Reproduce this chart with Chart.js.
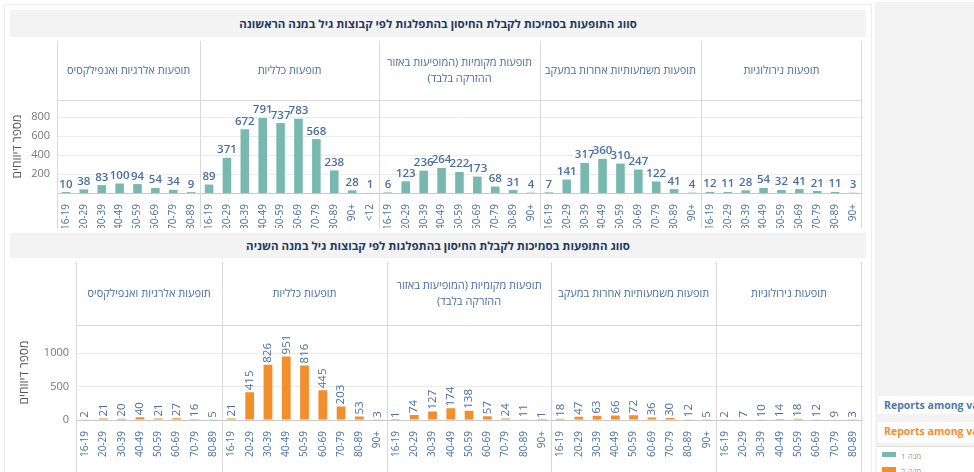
<!DOCTYPE html>
<html>
<head>
<meta charset="utf-8">
<script src="https://cdn.jsdelivr.net/npm/chart.js@4.4.1/dist/chart.umd.min.js"></script>
<style>
body { margin: 0; width: 974px; height: 472px; overflow: hidden; background: #fff; position: relative;
  font-family: 'Open Sans', 'Liberation Sans', sans-serif; }
.frame { position: absolute; left: 4px; top: 4px; width: 866px; height: 472px; border: 1px solid #ececec; border-bottom: none; }
.band { position: absolute; left: 10px; width: 856px; background: #f3f3f3; color: #1f3a60; font-weight: bold;
  font-size: 11.5px; text-align: center; direction: rtl; }
#band1 { top: 10px; height: 27px; line-height: 27px; }
#band2 { top: 233px; height: 25px; line-height: 25px; }
.box { position: absolute; }
#c1box { left: 0; top: 41px; width: 868px; height: 187px; }
#c2box { left: 0; top: 262px; width: 868px; height: 210px; }
.side { position: absolute; left: 875px; top: 2px; width: 99px; height: 470px; background: #f3f3f3; }
.tag { position: absolute; left: 878px; width: 96px; background: #fff; font-size: 10.5px; font-weight: bold;
  padding-left: 6px; box-sizing: border-box; white-space: nowrap; overflow: hidden; }
#tag1 { top: 396px; height: 18px; line-height: 18px; color: #4e79a7; }
#tag2 { top: 422px; height: 21px; line-height: 18px; color: #f28e2b; }
.leg { position: absolute; left: 877px; top: 446px; width: 97px; height: 26px; background: #fff; border-top: 1px solid #e0e0e0; }
.sw { position: absolute; left: 5px; width: 14px; height: 5px; }
.lt { position: absolute; left: 24px; font-size: 8px; color: #999; direction: rtl; }
</style>
</head>
<body>
<div class="frame"></div>
<div class="band" id="band1"></div>
<div class="box" id="c1box"><canvas id="dose1"></canvas></div>
<div class="band" id="band2"></div>
<div class="box" id="c2box"><canvas id="dose2"></canvas></div>
<div class="side"></div>
<div class="tag" id="tag1">Reports among va...</div>
<div class="tag" id="tag2">Reports among va...</div>
<div class="leg">
  <div class="sw" style="top:5px;background:#79b8ae"></div><div class="lt" style="top:3px">מנה 1</div>
  <div class="sw" style="top:20px;background:#f28e2b"></div><div class="lt" style="top:18px">מנה 2</div>
</div>
<script>
var title1 = 'סווג התופעות בסמיכות לקבלת החיסון בהתפלגות לפי קבוצות גיל במנה הראשונה';
var title2 = 'סווג התופעות בסמיכות לקבלת החיסון בהתפלגות לפי קבוצות גיל  במנה השניה';
var yTitle = 'מספר דיווחים';

var effectTypes = [
	['תופעות אלרגיות ואנפילקסיס'],
	['תופעות כלליות'],
	['תופעות מקומיות (המופיעות באזור', 'ההזרקה בלבד)'],
	['תופעות משמעותיות אחרות במעקב'],
	['תופעות נירולוגיות']
];

// dose 1 - age groups per effect type
var ages1 = [
	['16-19', '20-29', '30-39', '40-49', '50-59', '60-69', '70-79', '80-89'],
	['16-19', '20-29', '30-39', '40-49', '50-59', '60-69', '70-79', '80-89', '90+', '<12'],
	['16-19', '20-29', '30-39', '40-49', '50-59', '60-69', '70-79', '80-89', '90+'],
	['16-19', '20-29', '30-39', '40-49', '50-59', '60-69', '70-79', '80-89', '90+'],
	['16-19', '20-29', '30-39', '40-49', '50-59', '60-69', '70-79', '80-89', '90+']
];
var allergic1 = [10, 38, 83, 100, 94, 54, 34, 9];
var general1  = [89, 371, 672, 791, 737, 783, 568, 238, 28, 1];
var local1    = [6, 123, 236, 264, 222, 173, 68, 31, 4];
var other1    = [7, 141, 317, 360, 310, 247, 122, 41, 4];
var neuro1    = [12, 11, 28, 54, 32, 41, 21, 11, 3];
var yTicks1   = [200, 400, 600, 800];

// dose 2
var ages2 = [
	['16-19', '20-29', '30-39', '40-49', '50-59', '60-69', '70-79', '80-89'],
	['16-19', '20-29', '30-39', '40-49', '50-59', '60-69', '70-79', '80-89', '90+'],
	['16-19', '20-29', '30-39', '40-49', '50-59', '60-69', '70-79', '80-89', '90+'],
	['16-19', '20-29', '30-39', '40-49', '50-59', '60-69', '70-79', '80-89', '90+'],
	['16-19', '20-29', '30-39', '40-49', '50-59', '60-69', '70-79', '80-89']
];
var allergic2 = [2, 21, 20, 40, 21, 27, 16, 5];
var general2  = [21, 415, 826, 951, 816, 445, 203, 53, 3];
var local2    = [1, 74, 127, 174, 138, 57, 24, 11, 1];
var other2    = [18, 47, 63, 66, 72, 36, 30, 12, 5];
var neuro2    = [2, 7, 10, 14, 18, 12, 9, 3];
var yTicks2   = [0, 500, 1000];

var teal = '#79b8ae';
var orange = '#f28e2b';
var blue = '#4a6fa0';
var font = "'Open Sans', 'Liberation Sans', sans-serif";

document.getElementById('band1').textContent = title1;
document.getElementById('band2').textContent = title2;

// draws the effect-type headers, separators and bar value labels
var panelsPlugin = {
	id : 'panels',
	afterDatasetsDraw : function(chart) {
		var o = chart.options.plugins.panels;
		var ctx = chart.ctx;
		var meta = chart.getDatasetMeta(0);
		var values = chart.data.datasets[0].data;
		ctx.save();
		ctx.fillStyle = blue;
		meta.data.forEach(function(bar, i) {
			if (o.rotated) {
				ctx.save();
				ctx.translate(bar.x, bar.y - 2);
				ctx.rotate(-Math.PI / 2);
				ctx.font = '11.5px ' + font;
				ctx.textAlign = 'left';
				ctx.textBaseline = 'middle';
				ctx.fillText(values[i], 0, 0);
				ctx.restore();
			} else {
				ctx.font = '600 11.5px ' + font;
				ctx.textAlign = 'center';
				ctx.textBaseline = 'bottom';
				ctx.fillText(values[i], bar.x, bar.y - 2);
			}
		});
		ctx.restore();
	},
	afterDraw : function(chart) {
		var o = chart.options.plugins.panels;
		var ctx = chart.ctx;
		var x = chart.scales.x;
		var area = chart.chartArea;
		var step = x.width / chart.data.labels.length;
		ctx.save();
		ctx.strokeStyle = '#d9d9d9';
		ctx.lineWidth = 1;
		ctx.beginPath();
		ctx.moveTo(area.left, Math.round(area.top) + 0.5);
		ctx.lineTo(area.right, Math.round(area.top) + 0.5);
		ctx.stroke();
		var start = 0;
		o.sizes.forEach(function(n, g) {
			var left = x.getPixelForValue(start) - step / 2;
			var right = x.getPixelForValue(start + n - 1) + step / 2;
			ctx.beginPath();
			ctx.moveTo(Math.round(left) + 0.5, 0);
			ctx.lineTo(Math.round(left) + 0.5, chart.height);
			if (g === o.sizes.length - 1) {
				ctx.moveTo(Math.round(right) - 0.5, 0);
				ctx.lineTo(Math.round(right) - 0.5, chart.height);
			}
			ctx.stroke();
			var lines = effectTypes[g];
			ctx.fillStyle = blue;
			ctx.font = '11px ' + font;
			ctx.textAlign = 'center';
			ctx.textBaseline = 'middle';
			ctx.direction = 'rtl';
			var cy = area.top / 2 - (lines.length - 1) * 8;
			lines.forEach(function(t, k) {
				ctx.fillText(t, (left + right) / 2, cy + k * 16);
			});
			start += n;
		});
		ctx.restore();
	}
};

function flat(groups) {
	return groups.reduce(function(a, b) { return a.concat(b); }, []);
}

function makeChart(id, labels, values, color, opt) {
	var ctx = document.getElementById(id).getContext('2d');
	return new Chart(ctx, {
		type : 'bar',
		data : {
			labels : flat(labels),
			datasets : [{
				data : flat(values),
				backgroundColor : color,
				barPercentage : 0.48,
				categoryPercentage : 1
			}]
		},
		options : {
			responsive : true,
			maintainAspectRatio : false,
			animation : false,
			layout : { padding : { top : opt.top, right : 1, left : 0, bottom : 0 } },
			plugins : {
				legend : { display : false },
				tooltip : { enabled : false },
				panels : { sizes : labels.map(function(a) { return a.length; }), rotated : opt.rotated }
			},
			scales : {
				x : {
					grid : { display : false },
					border : { color : '#c8c8c8' },
					ticks : {
						color : blue, font : { family : font, size : 10 },
						minRotation : 90, maxRotation : 90, autoSkip : false, padding : 3
					},
					afterFit : function(s) { s.height = opt.xh; }
				},
				y : {
					min : 0,
					max : opt.max,
					grid : {
						drawTicks : false,
						color : function(c) {
							return c.tick && c.tick.value > 0 ? '#ebebeb' : 'rgba(0,0,0,0)';
						}
					},
					border : { display : false },
					ticks : {
						color : '#777', padding : 7, autoSkip : false,
						font : { family : font, size : 11 },
						callback : function(v) { return String(v); }
					},
					afterBuildTicks : function(s) {
						s.ticks = opt.ticks.map(function(v) { return { value : v }; });
					},
					title : {
						display : true, text : yTitle, color : '#555',
						font : { family : font, size : 12 }, padding : { top : opt.tp, bottom : 0 }
					},
					afterFit : function(s) { s.width = opt.yw; }
				}
			}
		},
		plugins : [panelsPlugin]
	});
}

window.onload = function() {
	makeChart('dose1', ages1, [allergic1, general1, local1, other1, neuro1], teal,
		{ top : 59, xh : 35, max : 980, ticks : yTicks1, yw : 57, tp : 10, rotated : false });
	makeChart('dose2', ages2, [allergic2, general2, local2, other2, neuro2], orange,
		{ top : 63, xh : 52, max : 1420, ticks : yTicks2, yw : 76, tp : 17, rotated : true });
};
</script>
</body>
</html>
